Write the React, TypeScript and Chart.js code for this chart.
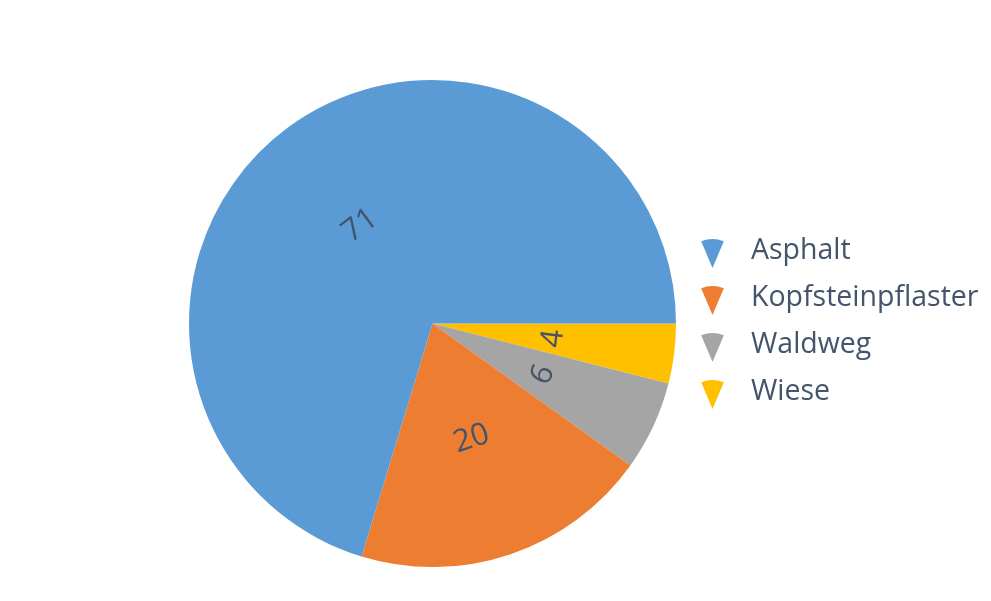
import React, { useEffect, useRef } from 'react';
import { Chart, registerables, Plugin } from 'chart.js';

Chart.register(...registerables);

// Data (legend order)
const categories = ['Asphalt', 'Kopfsteinpflaster', 'Waldweg', 'Wiese'];
const values = [71, 20, 6, 4];
const colors = ['#5B9BD5', '#ED7D31', '#A5A5A5', '#FFC000'];

const TEXT_COLOR = '#44546A';
const FONT = '"Open Sans", "Noto Sans", sans-serif';

// Excel draws the slices counter-clockwise from 3 o'clock; Chart.js goes clockwise,
// so feed the slices in reverse order and start at 90 degrees.
const pieLabels = [...categories].reverse();
const pieValues = [...values].reverse();
const pieColors = [...colors].reverse();

// Rotated value labels, tangential to the circle
const valueLabels: Plugin<'pie'> = {
  id: 'valueLabels',
  afterDatasetsDraw(chart) {
    const ctx = chart.ctx;
    const meta = chart.getDatasetMeta(0);
    ctx.save();
    ctx.fillStyle = TEXT_COLOR;
    ctx.font = `31px ${FONT}`;
    ctx.textAlign = 'center';
    ctx.textBaseline = 'middle';
    meta.data.forEach((el: any, i: number) => {
      const mid = (el.startAngle + el.endAngle) / 2;
      const r = el.outerRadius * 0.5;
      const x = el.x + Math.cos(mid) * r;
      const y = el.y + Math.sin(mid) * r;
      let rot = mid + Math.PI / 2;
      while (rot > Math.PI / 2) rot -= Math.PI;
      while (rot <= -Math.PI / 2) rot += Math.PI;
      ctx.save();
      ctx.translate(x, y);
      ctx.rotate(rot);
      ctx.fillText(String(pieValues[i]), 0, 0);
      ctx.restore();
    });
    ctx.restore();
  },
};

// Legend with Excel's little wedge markers
const wedgeLegend: Plugin<'pie'> = {
  id: 'wedgeLegend',
  afterDraw(chart) {
    const ctx = chart.ctx;
    ctx.save();
    ctx.font = `28.5px ${FONT}`;
    ctx.textBaseline = 'middle';
    ctx.textAlign = 'left';
    const half = (23 * Math.PI) / 180;
    categories.forEach((name, i) => {
      const cy = 251 + i * 47;
      const ax = 712.5;
      const ay = cy + 17;
      ctx.fillStyle = colors[i];
      ctx.beginPath();
      ctx.moveTo(ax, ay);
      ctx.arc(ax, ay, 29, -Math.PI / 2 - half, -Math.PI / 2 + half);
      ctx.closePath();
      ctx.fill();
      ctx.fillStyle = TEXT_COLOR;
      ctx.fillText(name, 751, cy);
    });
    ctx.restore();
  },
};

const App: React.FC = () => {
  const canvasRef = useRef<HTMLCanvasElement | null>(null);
  const chartRef = useRef<Chart<'pie'> | null>(null);

  useEffect(() => {
    document.body.style.margin = '0';
    if (!canvasRef.current) return;
    if (chartRef.current) {
      chartRef.current.destroy();
      chartRef.current = null;
    }
    chartRef.current = new Chart(canvasRef.current, {
      type: 'pie',
      data: {
        labels: pieLabels,
        datasets: [
          {
            data: pieValues,
            backgroundColor: pieColors,
            borderWidth: 0,
          },
        ],
      },
      options: {
        animation: false,
        responsive: true,
        maintainAspectRatio: false,
        rotation: 90,
        layout: {
          padding: { left: 189, right: 315, top: 80, bottom: 34 },
        },
        plugins: {
          legend: { display: false },
          tooltip: { enabled: false },
        },
      },
      plugins: [valueLabels, wedgeLegend],
    });

    return () => {
      if (chartRef.current) {
        chartRef.current.destroy();
        chartRef.current = null;
      }
    };
  }, []);

  return (
    <div style={{ width: 991, height: 601, position: 'relative', background: '#fff' }}>
      <canvas ref={canvasRef} />
    </div>
  );
};

export default App;
